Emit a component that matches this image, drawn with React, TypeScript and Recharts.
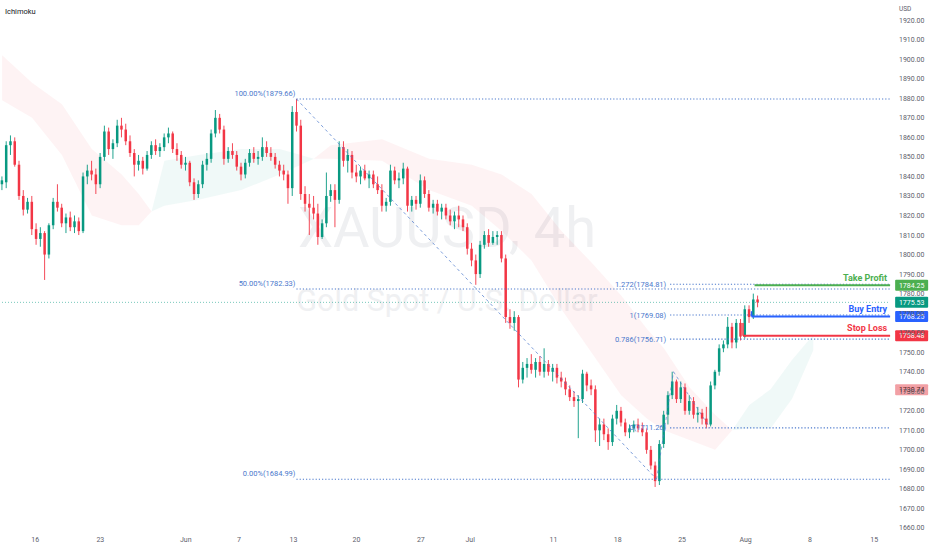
import React from "react";
import { ComposedChart, Bar, Area, XAxis, YAxis, ReferenceLine, ReferenceDot } from "recharts";

if (typeof document !== "undefined") {
  document.body.style.margin = "0";
}

const FONT = "Roboto, 'Noto Sans', sans-serif";
const UP = "#089981";
const DOWN = "#f23645";
const FIB = "#4a78cc";
const AXIS_TXT = "#5d606b";

// bars, index 0..177 (XAUUSD)
const open = [1836,1837,1856,1858,1846,1830,1823,1827,1813,1808,1811,1800,1815,1827,1824,1816,1819,1814,1817,1812,1840,1843,1841,1836,1850,1863,1854,1857,1866,1864,1858,1852,1846,1848,1844,1851,1856,1853,1855,1860,1862,1854,1851,1846,1847,1837,1831,1836,1846,1849,1862,1870,1864,1849,1853,1851,1845,1841,1847,1852,1849,1850,1855,1852,1850,1846,1843,1841,1834,1873,1866,1831,1826,1824,1821,1809,1816,1830,1833,1828,1855,1848,1851,1842,1840,1843,1839,1841,1836,1833,1825,1827,1843,1838,1839,1844,1825,1828,1826,1838,1831,1824,1826,1822,1824,1820,1817,1820,1818,1814,1803,1797,1790,1805,1810,1806,1809,1810,1798,1768,1765,1768,1736,1742,1744,1741,1745,1740,1744,1740,1742,1737,1735,1731,1727,1725,1726,1739,1733,1731,1710,1713,1708,1704,1716,1720,1714,1709,1711,1713,1711,1709,1700,1692,1684,1703,1718,1728,1735,1726,1732,1720,1725,1718,1719,1716,1713,1733,1740,1752,1754,1763,1755,1765,1758,1772,1768,1777];
const high = [1840,1858,1861,1860,1848,1833,1829,1830,1816,1814,1812,1816,1829,1836,1826,1821,1822,1820,1819,1842,1846,1848,1844,1852,1866,1865,1859,1869,1870,1867,1861,1854,1851,1850,1853,1858,1859,1857,1862,1865,1863,1857,1853,1850,1848,1839,1838,1848,1852,1864,1874,1872,1866,1855,1857,1853,1847,1849,1854,1855,1853,1860,1858,1855,1852,1848,1846,1843,1876,1879.66,1869,1835,1831,1830,1826,1818,1842,1836,1836,1858,1858,1854,1853,1846,1845,1846,1843,1843,1840,1836,1829,1846,1845,1842,1847,1845,1830,1830,1841,1840,1833,1828,1828,1826,1826,1823,1822,1825,1820,1816,1806,1800,1807,1812,1813,1812,1812,1812,1800,1772,1771,1769,1745,1747,1749,1747,1748,1752,1746,1744,1744,1740,1737,1733,1730,1728,1741,1740,1736,1733,1716,1716,1711,1718,1723,1722,1716,1713,1715,1716,1714,1711,1702,1694,1705,1720,1730,1740,1736,1735,1734,1728,1727,1722,1721,1722,1735,1741,1754,1756,1768,1765,1767,1767,1774,1774,1780,1779];
const low = [1833,1834,1851,1845,1828,1820,1821,1810,1805,1804,1787,1798,1813,1822,1814,1811,1812,1811,1810,1811,1836,1838,1831,1834,1848,1851,1849,1855,1860,1856,1850,1840,1843,1841,1843,1849,1851,1850,1853,1857,1852,1848,1844,1843,1835,1828,1829,1834,1843,1847,1860,1862,1846,1847,1849,1843,1838,1839,1845,1847,1846,1848,1850,1848,1844,1840,1838,1826,1830,1863,1828,1822,1810,1818,1805,1808,1814,1827,1814,1826,1845,1842,1839,1837,1836,1838,1834,1834,1831,1822,1822,1825,1836,1834,1836,1822,1822,1823,1824,1829,1822,1821,1820,1818,1818,1815,1813,1814,1812,1800,1794,1784.5,1788,1803,1804,1805,1805,1796,1765,1762,1761,1732,1734,1737,1739,1737,1738,1737,1738,1735,1734,1732,1728,1725,1722,1706,1724,1730,1728,1704,1702,1705,1700,1702,1713,1712,1707,1706,1709,1709,1707,1698,1690,1681,1682,1701,1713,1726,1724,1724,1718,1718,1716,1714,1713,1711,1712,1731,1738,1750,1752,1752,1752,1756,1757,1765,1767,1773];
const close = [1838,1856,1858,1846,1830,1823,1827,1813,1808,1811,1800,1815,1827,1824,1816,1819,1814,1817,1812,1840,1843,1841,1836,1850,1863,1854,1857,1866,1864,1858,1852,1846,1848,1844,1851,1856,1853,1855,1860,1862,1854,1851,1846,1847,1837,1831,1836,1846,1849,1862,1870,1864,1849,1853,1851,1845,1841,1847,1852,1849,1850,1855,1852,1850,1846,1843,1841,1834,1873,1866,1831,1826,1824,1821,1809,1816,1830,1833,1828,1855,1848,1851,1842,1840,1843,1839,1841,1836,1833,1825,1827,1843,1838,1839,1844,1825,1828,1826,1838,1831,1824,1826,1822,1824,1820,1817,1820,1818,1814,1803,1797,1790,1805,1810,1806,1809,1810,1798,1768,1765,1768,1736,1742,1744,1741,1745,1740,1744,1740,1742,1737,1735,1731,1727,1725,1726,1739,1733,1731,1710,1713,1708,1704,1716,1720,1714,1709,1711,1713,1711,1709,1700,1692,1684,1703,1718,1728,1735,1726,1732,1720,1725,1718,1719,1716,1713,1733,1740,1752,1754,1763,1755,1765,1758,1772,1768,1777,1775.53];

// total bar slots incl. future space on the right
const SLOTS = 208;

// x-axis date labels (bar index where each date sits)
const xTickPos = [8.2, 23.4, 43.3, 55.7, 68.4, 83.1, 98.1, 109.6, 129, 144, 159, 173.8, 188.8, 203.8];
const xTickLabels = ["16", "23", "Jun", "7", "13", "20", "27", "Jul", "11", "18", "25", "Aug", "8", "15"];
const yTicks = [1660,1670,1680,1690,1700,1710,1720,1730,1740,1750,1760,1770,1780,1790,1800,1810,1820,1830,1840,1850,1860,1870,1880,1890,1900,1910,1920];

// Ichimoku cloud (leading spans), r = bearish, g = bullish, x = crossover
const cloudIdx = [0,7,14,21,28,32,35,38,46,56,65,70,73,77,89,100,110,117,124,131,138,145,151,155,161,167,171,175,180,185,190];
const cloudTop = [1902,1888,1877,1854,1841,1831,1822,1848,1851,1854,1854,1851,1849,1856,1859,1849,1846,1841,1831,1812,1796,1779,1762,1752,1732,1718,1710,1723,1731,1746,1759];
const cloudBot = [1879,1870,1851,1820,1815,1815,1822,1825,1828,1833,1841,1846,1849,1849,1848,1833,1825,1812,1797,1772,1750,1728,1716,1710,1705,1700,1710,1711,1711,1726,1751];
const cloudKind = ["r","r","r","r","r","r","x","g","g","g","g","g","x","r","r","r","r","r","r","r","r","r","r","r","r","r","x","g","g","g","g"];

// Fibonacci retracement
const fibStart = 69.1;
const fibLevels = [1879.66, 1782.33, 1684.99];
const fibLabels = ["100.00%(1879.66)", "50.00%(1782.33)", "0.00%(1684.99)"];
const fibTrend = [[69.1, 1879.66], [153.05, 1684.99]];

// Fibonacci extension
const extStart = 156.2;
const extLabelAt = 155.3;
const extLevels = [1784.81, 1769.08, 1756.71, 1711.26];
const extLabels = ["1.272(1784.81)", "1(1769.08)", "0.786(1756.71)", "0(1711.26)"];
const extLegs = [[153.05, 1684.99], [157, 1740], [165.5, 1711.26]];

// trade plan
const tradeNames = ["Take Profit", "Buy Entry", "Stop Loss"];
const tradePrices = [1784.25, 1768.25, 1758.48];
const tradeStart = [175.9, 175.2, 173.2];
const tradeTickFrom = [1784.25, 1771, 1765];
const tradeColors = ["#4caf50", "#2962ff", "#f23645"];

const lastPrice = 1775.53;
const tagPrices = [1784.25, 1775.53, 1768.25, 1758.48, 1730.74];
const tagBg = ["#4caf50", "#089981", "#2962ff", "#f23645", "#f2a0a5"];
const tagFg = ["#ffffff", "#ffffff", "#ffffff", "#ffffff", "#5a1e22"];

type Row = {
  i: number;
  o?: number;
  h?: number;
  l?: number;
  c?: number;
  range?: [number, number];
  red?: [number, number];
  green?: [number, number];
};

const rows: Row[] = Array.from({ length: SLOTS }, (_, i) => {
  const row: Row = { i };
  if (i < close.length) {
    row.o = open[i];
    row.h = high[i];
    row.l = low[i];
    row.c = close[i];
    row.range = [low[i], high[i]];
  }
  const k = cloudIdx.indexOf(i);
  if (k >= 0) {
    const t = cloudTop[k];
    const b = cloudBot[k];
    row.red = cloudKind[k] === "r" ? [b, t] : [b, b];
    row.green = cloudKind[k] === "g" ? [b, t] : [b, b];
  }
  return row;
});

const Candle = (props: any) => {
  const { x, y, width, height, payload } = props;
  if (!payload || payload.o == null || !isFinite(y) || !isFinite(height)) return null;
  const { o, h, l, c } = payload;
  const top = Math.min(y, y + height);
  const bot = Math.max(y, y + height);
  const span = h - l;
  const py = (p: number) => (span === 0 ? top : top + ((h - p) / span) * (bot - top));
  const cx = x + width / 2;
  const color = c >= o ? UP : DOWN;
  const bt = py(Math.max(o, c));
  const bb = py(Math.min(o, c));
  return (
    <g>
      <line x1={cx} x2={cx} y1={top} y2={bot} stroke={color} strokeWidth={0.9} />
      <rect x={cx - 1.25} y={bt} width={2.5} height={Math.max(1, bb - bt)} fill={color} />
    </g>
  );
};

const XTick = (p: any) => {
  const k = xTickPos.indexOf(p.payload?.value);
  return (
    <text x={p.x} y={542} textAnchor="middle" fontSize={7} fill={AXIS_TXT} fontFamily={FONT}>
      {k >= 0 ? xTickLabels[k] : ""}
    </text>
  );
};

const dot = (key: string, x: number, y: number, render: (cx: number, cy: number) => React.ReactElement) => (
  <ReferenceDot
    key={key}
    xAxisId="t"
    x={x}
    y={y}
    r={1}
    ifOverflow="visible"
    shape={(p: any) => render(p.cx, p.cy)}
  />
);

export default function App() {
  const right = SLOTS - 0.5;
  const edge = SLOTS - 0.51;
  return (
    <div style={{ position: "relative", width: 932, height: 550, fontFamily: FONT, background: "#ffffff" }}>
      <svg width={932} height={550} style={{ position: "absolute", left: 0, top: 0 }}>
        <text x={5} y={14} fontSize={7.5} fill="#131722" fontFamily={FONT}>Ichimoku</text>
        <text x={899} y={11} fontSize={6.5} fill={AXIS_TXT} fontFamily={FONT}>USD</text>
        <text x={447} y={247} textAnchor="middle" fontSize={56} fill="#eff0f2" fontFamily={FONT}>XAUUSD, 4h</text>
        <text x={447} y={311} textAnchor="middle" fontSize={30.5} fill="#eff0f2" fontFamily={FONT}>Gold Spot / U.S. Dollar</text>
      </svg>
      <ComposedChart width={932} height={550} data={rows} margin={{ top: 0, right: 0, bottom: 0, left: 0 }}>
        <XAxis xAxisId="c" dataKey="i" type="category" hide />
        <XAxis
          xAxisId="t"
          type="number"
          domain={[-0.5, right]}
          ticks={xTickPos}
          allowDataOverflow
          interval={0}
          height={22}
          axisLine={false}
          tickLine={false}
          tick={<XTick />}
        />
        <YAxis
          orientation="right"
          type="number"
          domain={[1660, 1930.33]}
          ticks={yTicks}
          allowDataOverflow
          interval={0}
          width={44}
          axisLine={false}
          tickLine={false}
          tickSize={0}
          tickMargin={11}
          tick={{ fontSize: 7, fill: AXIS_TXT, fontFamily: FONT }}
          tickFormatter={(v: number) => v.toFixed(2)}
        />

        <Area xAxisId="c" type="linear" dataKey="red" stroke="none" fill={DOWN} fillOpacity={0.06} connectNulls isAnimationActive={false} dot={false} activeDot={false} />
        <Area xAxisId="c" type="linear" dataKey="green" stroke="none" fill={UP} fillOpacity={0.06} connectNulls isAnimationActive={false} dot={false} activeDot={false} />

        <ReferenceLine xAxisId="t" y={lastPrice} ifOverflow="visible" stroke={UP} strokeOpacity={0.55} strokeDasharray="1 2" strokeWidth={1} />

        {fibLevels.map((lv, k) => (
          <ReferenceLine key={"fl" + k} xAxisId="t" ifOverflow="visible" segment={[{ x: fibStart, y: lv }, { x: edge, y: lv }]} stroke={FIB} strokeWidth={1.1} strokeDasharray="1.2 2" />
        ))}
        <ReferenceLine
          xAxisId="t"
          ifOverflow="visible"
          segment={[{ x: fibTrend[0][0], y: fibTrend[0][1] }, { x: fibTrend[1][0], y: fibTrend[1][1] }]}
          stroke={FIB}
          strokeOpacity={0.8}
          strokeWidth={0.9}
          strokeDasharray="3 3"
        />
        {extLevels.map((lv, k) => (
          <ReferenceLine key={"el" + k} xAxisId="t" ifOverflow="visible" segment={[{ x: extStart, y: lv }, { x: edge, y: lv }]} stroke={FIB} strokeWidth={1.1} strokeDasharray="1.2 2" />
        ))}
        {extLegs.slice(0, -1).map((pt, k) => (
          <ReferenceLine
            key={"leg" + k}
            xAxisId="t"
            ifOverflow="visible"
            segment={[{ x: pt[0], y: pt[1] }, { x: extLegs[k + 1][0], y: extLegs[k + 1][1] }]}
            stroke={FIB}
            strokeOpacity={0.7}
            strokeWidth={0.9}
            strokeDasharray="3 3"
          />
        ))}

        <Bar xAxisId="c" dataKey="range" shape={(p: any) => <Candle {...p} />} isAnimationActive={false} />

        {tradePrices.map((pr, k) => (
          <ReferenceLine key={"tl" + k} xAxisId="t" ifOverflow="visible" segment={[{ x: tradeStart[k], y: pr }, { x: edge, y: pr }]} stroke={tradeColors[k]} strokeWidth={2} />
        ))}
        {tradePrices.map((pr, k) =>
          tradeTickFrom[k] !== pr ? (
            <ReferenceLine key={"tv" + k} xAxisId="t" ifOverflow="visible" segment={[{ x: tradeStart[k], y: tradeTickFrom[k] }, { x: tradeStart[k], y: pr }]} stroke={tradeColors[k]} strokeWidth={1.5} />
          ) : null
        )}

        {fibLevels.map((lv, k) =>
          dot("fx" + k, fibStart, lv, (cx, cy) => (
            <text x={cx - 1} y={cy - 3} textAnchor="end" fontSize={7.5} fill={FIB} fontFamily={FONT}>{fibLabels[k]}</text>
          ))
        )}
        {extLevels.map((lv, k) =>
          dot("ex" + k, extLabelAt, lv, (cx, cy) => (
            <text x={cx} y={cy + 2.6} textAnchor="end" fontSize={7.5} fill={FIB} fontFamily={FONT}>{extLabels[k]}</text>
          ))
        )}
        {tradePrices.map((pr, k) =>
          dot("tx" + k, right, pr, (cx, cy) => (
            <text x={cx - 3} y={cy - 4.5} textAnchor="end" fontSize={9} fontWeight={700} fill={tradeColors[k]} fontFamily={FONT}>{tradeNames[k]}</text>
          ))
        )}
        {tagPrices.map((pr, k) =>
          dot("tag" + k, right, pr, (cx, cy) => (
            <g>
              <rect x={cx + 5} y={cy - 5.5} width={33} height={11} fill={tagBg[k]} rx={1} />
              <text x={cx + 21.5} y={cy + 2.5} textAnchor="middle" fontSize={7} fill={tagFg[k]} fontFamily={FONT}>{pr.toFixed(2)}</text>
            </g>
          ))
        )}
      </ComposedChart>
    </div>
  );
}
